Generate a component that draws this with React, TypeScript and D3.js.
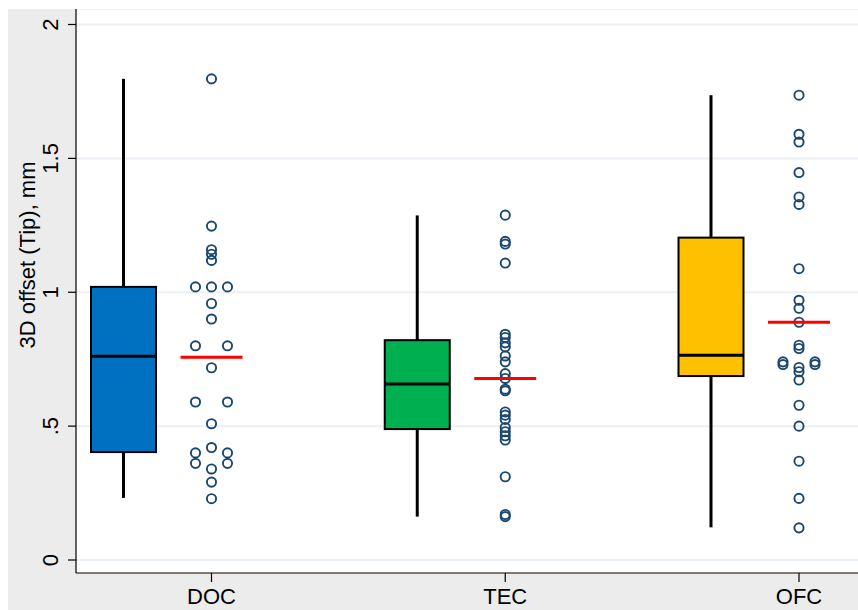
import React from "react";
import * as d3 from "d3";

const categories = ["DOC", "TEC", "OFC"];
const boxColors = ["#0070c0", "#00b050", "#ffc000"];

const docValues = [1.797, 1.247, 1.159, 1.142, 1.119, 1.02, 1.02, 1.02, 0.958, 0.9, 0.8, 0.8, 0.718, 0.59, 0.59, 0.509, 0.42, 0.4, 0.4, 0.361, 0.361, 0.34, 0.291, 0.229];
const tecValues = [1.288, 1.19, 1.18, 1.109, 0.843, 0.831, 0.811, 0.796, 0.762, 0.74, 0.696, 0.678, 0.638, 0.632, 0.553, 0.541, 0.525, 0.495, 0.479, 0.464, 0.448, 0.311, 0.17, 0.162];
const ofcValues = [1.736, 1.59, 1.561, 1.447, 1.356, 1.328, 1.088, 0.97, 0.94, 0.888, 0.802, 0.79, 0.74, 0.74, 0.73, 0.73, 0.719, 0.703, 0.672, 0.578, 0.5, 0.369, 0.23, 0.12];
const seriesValues = [docValues, tecValues, ofcValues];

const whiskerLow = [0.232, 0.162, 0.122];
const q1 = [0.403, 0.489, 0.687];
const median = [0.761, 0.657, 0.765];
const q3 = [1.02, 0.821, 1.204];
const whiskerHigh = [1.797, 1.287, 1.736];
const means = [0.757, 0.678, 0.888];

const yTicks = [0, 0.5, 1, 1.5, 2];
const yTickLabels = ["0", ".5", "1", "1.5", "2"];
const yTitle = "3D offset (Tip), mm";

const FONT = "'Liberation Sans', Arial, sans-serif";

function tieOffsets(vals: number[]): number[] {
  const groups = new Map<number, number[]>();
  vals.forEach((v, i) => {
    const g = groups.get(v) || [];
    g.push(i);
    groups.set(v, g);
  });
  const off = new Array(vals.length).fill(0);
  groups.forEach((idx) => {
    const n = idx.length;
    idx.forEach((id, k) => {
      if (n % 2 === 1) {
        off[id] = (k - (n - 1) / 2);
      } else {
        const m = Math.floor(k / 2) + 1;
        off[id] = k % 2 === 0 ? -m : m;
      }
    });
  });
  return off;
}

export default function App() {
  const W = 858, H = 610;
  const plotL = 76, plotT = 9, plotB = 573, plotR = 858;
  const y = d3.scaleLinear().domain([0, 2]).range([560, 24.5]);
  const x = d3.scalePoint<string>().domain(categories).range([211.5, 799]);
  const boxShift = -88;
  const boxW = 65;
  const dotStep = 16;
  const meanHalf = 31;

  return (
    <svg width={W} height={H} style={{ position: "absolute", left: 0, top: 0, display: "block" }}>
      <rect x={0} y={0} width={W} height={H} fill="#ffffff" />
      <rect x={8} y={plotT} width={W - 8} height={H - plotT} fill="#ececec" />
      <rect x={plotL} y={plotT} width={plotR - plotL} height={plotB - plotT} fill="#ffffff" />
      <line x1={plotL} x2={plotR} y1={plotT + 0.5} y2={plotT + 0.5} stroke="#eef2f4" strokeWidth={1} />
      {yTicks.map((t) => (
        <line key={"g" + t} x1={plotL} x2={plotR} y1={y(t)} y2={y(t)} stroke="#eaf0f3" strokeWidth={2} />
      ))}
      {categories.map((c, i) => {
        const cx = (x(c) as number) + boxShift;
        return (
          <g key={"box" + c}>
            <line x1={cx} x2={cx} y1={y(whiskerHigh[i])} y2={y(q3[i])} stroke="#000" strokeWidth={3} />
            <line x1={cx} x2={cx} y1={y(q1[i])} y2={y(whiskerLow[i])} stroke="#000" strokeWidth={3} />
            <rect x={cx - boxW / 2} y={y(q3[i])} width={boxW} height={y(q1[i]) - y(q3[i])} fill={boxColors[i]} stroke="#000" strokeWidth={2} />
            <line x1={cx - boxW / 2} x2={cx + boxW / 2} y1={y(median[i])} y2={y(median[i])} stroke="#000" strokeWidth={3} />
          </g>
        );
      })}
      {categories.map((c, i) => {
        const px = x(c) as number;
        const offs = tieOffsets(seriesValues[i]);
        return (
          <g key={"pts" + c}>
            {seriesValues[i].map((v, j) => (
              <circle key={j} cx={px + offs[j] * dotStep} cy={y(v)} r={4.6} fill="none" stroke="#1a476f" strokeWidth={1.9} />
            ))}
            <line x1={px - meanHalf} x2={px + meanHalf} y1={y(means[i])} y2={y(means[i])} stroke="#ff0000" strokeWidth={3} />
          </g>
        );
      })}
      <line x1={plotL} x2={plotL} y1={plotT} y2={plotB} stroke="#000" strokeWidth={1.2} />
      <line x1={plotL} x2={plotR} y1={plotB} y2={plotB} stroke="#000" strokeWidth={1.2} />
      {yTicks.map((t, i) => (
        <g key={"yt" + t}>
          <line x1={plotL - 8} x2={plotL} y1={y(t)} y2={y(t)} stroke="#000" strokeWidth={1.2} />
          <text transform={`translate(58,${y(t)}) rotate(-90)`} textAnchor="middle" fontFamily={FONT} fontSize={22} fill="#000">
            {yTickLabels[i]}
          </text>
        </g>
      ))}
      {categories.map((c) => (
        <g key={"xt" + c}>
          <line x1={x(c) as number} x2={x(c) as number} y1={plotB} y2={plotB + 9} stroke="#000" strokeWidth={1.2} />
          <text x={x(c) as number} y={604} textAnchor="middle" fontFamily={FONT} fontSize={22} fill="#000">
            {c}
          </text>
        </g>
      ))}
      <text transform={`translate(35,255) rotate(-90)`} textAnchor="middle" fontFamily={FONT} fontSize={22} fill="#000">
        {yTitle}
      </text>
    </svg>
  );
}
